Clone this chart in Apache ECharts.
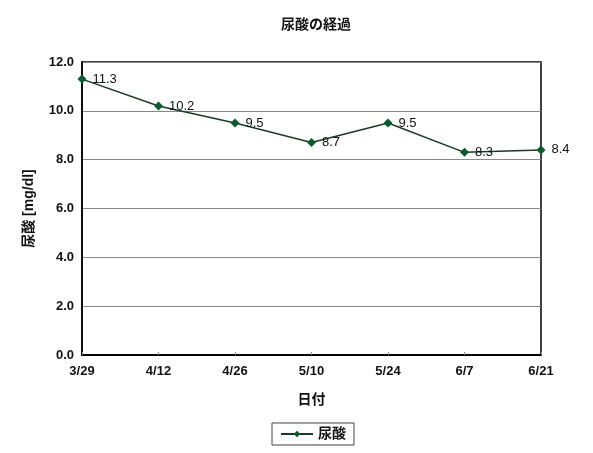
<!DOCTYPE html>
<html><head><meta charset="utf-8">
<script src="https://cdn.jsdelivr.net/npm/echarts@6/dist/echarts.min.js"></script>
<style>html,body{margin:0;padding:0;background:#fff}#c{width:593px;height:453px}</style>
</head><body><div id="c"></div>
<script>
const categories = ['3/29','4/12','4/26','5/10','5/24','6/7','6/21'];
const uricAcid = [11.3, 10.2, 9.5, 8.7, 9.5, 8.3, 8.4];
const seriesName = '尿酸';
const yTicks = {min: 0, max: 12, interval: 2};

const font = '"Liberation Sans", "Noto Sans CJK JP", sans-serif';
const chart = echarts.init(document.getElementById('c'));
chart.setOption({
  backgroundColor: '#fff',
  animation: false,
  title: {text: '尿酸の経過', left: 311, top: 13, textAlign: 'center',
    textStyle: {fontFamily: font, fontSize: 14, fontWeight: 'bold', color: '#111'}},
  grid: {left: 82, right: 52, top: 62, bottom: 98, show: true, borderColor: '#000', borderWidth: 1.5},
  legend: {data: [seriesName], left: 272, top: 423, padding: [4, 8],
    borderColor: '#444', borderWidth: 1, itemWidth: 32, itemHeight: 8,
    textStyle: {fontFamily: font, fontSize: 14, fontWeight: 'bold', color: '#111'}},
  xAxis: {type: 'category', data: categories, boundaryGap: false,
    name: '日付', nameLocation: 'middle', nameGap: 38,
    nameTextStyle: {fontFamily: font, fontSize: 14, fontWeight: 'bold', color: '#111'},
    axisLine: {lineStyle: {color: '#000', width: 2}},
    axisTick: {show: true, inside: true, length: 3, lineStyle: {color: '#888'}},
    axisLabel: {fontFamily: font, fontSize: 13, fontWeight: 'bold', color: '#111', margin: 10}},
  yAxis: {type: 'value', min: yTicks.min, max: yTicks.max, interval: yTicks.interval,
    name: '尿酸 [mg/dl]', nameLocation: 'middle', nameGap: 46,
    nameTextStyle: {fontFamily: font, fontSize: 14, fontWeight: 'bold', color: '#111'},
    axisLine: {show: true, lineStyle: {color: '#000', width: 1.5}},
    axisTick: {show: false},
    axisLabel: {fontFamily: font, fontSize: 13, fontWeight: 'bold', color: '#111', margin: 8,
      formatter: v => v.toFixed(1)},
    splitLine: {lineStyle: {color: '#888', width: 1}}},
  series: [{name: seriesName, type: 'line', data: uricAcid,
    symbol: 'diamond', symbolSize: 9,
    lineStyle: {color: '#1b3a28', width: 1.5},
    itemStyle: {color: '#0d5a30'},
    label: {show: true, position: 'right', distance: 6, formatter: p => p.value.toFixed(1),
      fontFamily: font, fontSize: 13, color: '#111'}}]
});
</script></body></html>
